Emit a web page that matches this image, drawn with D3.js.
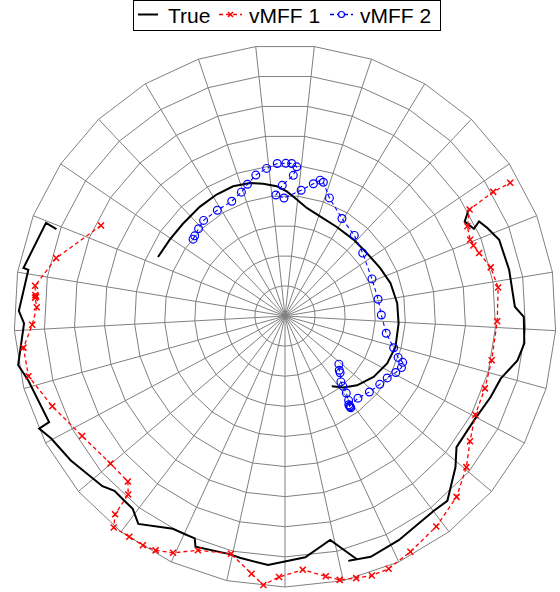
<!DOCTYPE html>
<html>
<head>
<meta charset="utf-8">
<script src="https://cdn.jsdelivr.net/npm/d3@7"></script>
<style>
  html, body { margin: 0; padding: 0; background: #fff; }
  svg { display: block; }
  text { font-family: "Liberation Sans", Arial, Helvetica, sans-serif; }
</style>
</head>
<body>
<svg id="chart" width="560" height="592"></svg>
<script>
// ---- Data (angles in degrees, counter-clockwise from east; radii in ring units) ----
const seriesNames = ["True", "vMFF 1", "vMFF 2"];

const trueInnerTheta = [155.1,146.5,137.9,128.0,119.4,111.8,104.8,99.4,93.7,89.2,84.2,78.6,70.6,59.8,48.1,37.5,26.7,17.3,6.5,-3.7,-15.6,-24.9,-34.5,-43.9,-50.7,-56.3];
const trueInnerR     = [4.65,4.59,4.57,4.60,4.63,4.64,4.57,4.45,4.32,4.14,3.89,3.66,3.51,3.42,3.41,3.43,3.54,3.67,3.75,3.78,3.81,3.74,3.57,3.32,3.07,2.80];

const trueOuterTheta = [159.2,158.7,169.6,169.8,178.9,181.6,190.4,194.1,204.2,204.6,207.6,214.0,223.0,225.7,229.0,231.7,234.8,242.2,247.9,248.8,256.9,259.4,266.1,274.8,281.4,286.4,284.5,289.6,296.9,307.4,311.3,318.4,322.6,331.1,338.5,343.8,349.2,353.5,359.8,2.3,11.6,19.6,23.5,26.0,24.8,27.7,30.1];
const trueOuterR     = [8.12,8.52,8.83,8.66,8.84,8.67,9.01,8.79,8.59,8.98,8.77,8.58,8.29,8.11,8.13,8.16,8.45,7.99,7.97,8.22,8.12,8.17,8.29,8.04,7.59,8.41,8.40,8.49,8.35,8.14,8.17,7.57,7.17,7.17,7.34,7.46,7.86,8.00,7.93,7.64,7.60,7.55,7.33,7.17,6.91,6.74,7.05];

const vmff1Theta = [153.8,165.8,173.1,175.2,175.5,175.8,178.0,182.0,186.9,193.2,201.2,210.6,220.2,226.5,228.7,229.4,231.0,234.8,238.2,241.1,244.7,249.6,257.2,262.6,265.4,268.7,274.0,278.9,281.7,285.2,288.5,292.3,298.0,305.7,313.5,320.2,325.9,332.6,340.1,347.9,358.6,7.6,13.3,18.0,20.5,22.4,26.2,30.0,30.8,30.6];
const vmff1R     = [6.81,7.84,8.36,8.32,8.29,8.32,8.25,8.40,8.75,8.75,8.29,7.83,7.59,7.58,7.89,8.67,9.04,8.97,8.96,8.89,8.70,8.30,8.10,8.63,8.96,8.67,8.45,8.75,8.95,9.02,9.09,9.07,8.87,8.61,8.28,7.84,7.42,7.12,7.06,7.02,7.05,7.14,7.02,6.78,6.68,6.65,6.75,7.08,8.05,8.69];

const vmff2Theta = [140.1,138.4,134.7,130.4,122.6,114.9,109.4,105.9,101.7,97.1,92.9,89.7,87.5,85.5,86.6,91.2,94.3,90.5,82.7,77.9,75.5,74.0,69.4,59.7,49.3,39.0,23.1,10.2,0.6,-9.7,-16.3,-20.1,-21.5,-23.9,-27.0,-31.2,-35.8,-42.0,-48.4,-54.4,-54.4,-54.3,-54.3,-53.0,-51.5,-50.5,-49.7,-45.9,-45.0,-41.8];
const vmff2R     = [3.98,4.01,4.08,4.17,4.17,4.20,4.36,4.55,4.78,4.94,5.07,5.07,5.07,4.97,4.68,4.34,4.03,3.92,4.21,4.49,4.66,4.62,4.19,3.75,3.53,3.32,3.14,3.14,3.20,3.41,3.76,4.00,4.20,4.23,4.13,3.97,3.88,3.77,3.65,3.68,3.75,3.63,3.71,3.51,3.27,3.02,2.87,2.63,2.55,2.40];

const ringValues = [1,2,3,4,5,6,7,8,9];
const spokeCount = 29;

// ---- Layout ----
const cx = 285, cy = 316, R = 271;
const svg = d3.select("#chart");
const rScale = d3.scaleLinear().domain([0, 9]).range([0, R]);
// convert math angle (deg, ccw from east) to d3 radial angle (rad, cw from north)
const ang = d3.scaleLinear().domain([0, 360]).range([Math.PI / 2, Math.PI / 2 - 2 * Math.PI]);

const zip = (th, r) => th.map((t, i) => ({ t, r: r[i] }));

const g = svg.append("g").attr("transform", `translate(${cx},${cy})`);

// Grid
const spokeAngles = d3.range(spokeCount).map(k => (k + 0.5) * 2 * Math.PI / spokeCount);
const ringLine = d3.lineRadial()
  .angle(d => d.a).radius(d => d.r).curve(d3.curveLinearClosed);
const grid = g.append("g").attr("stroke", "#808080").attr("stroke-width", 1).attr("fill", "none");
ringValues.forEach(v => {
  grid.append("path").attr("d", ringLine(spokeAngles.map(a => ({ a, r: rScale(v) }))));
});
spokeAngles.forEach(a => {
  const p = d3.pointRadial(a, rScale(9));
  grid.append("line").attr("x1", 0).attr("y1", 0).attr("x2", p[0]).attr("y2", p[1]);
});

const line = d3.lineRadial().angle(d => ang(d.t)).radius(d => rScale(d.r));
const pt = d => d3.pointRadial(ang(d.t), rScale(d.r));

// True
[zip(trueInnerTheta, trueInnerR), zip(trueOuterTheta, trueOuterR)].forEach(seg => {
  g.append("path").attr("d", line(seg)).attr("fill", "none")
    .attr("stroke", "#000").attr("stroke-width", 2);
});

// vMFF 1
const d1 = zip(vmff1Theta, vmff1R);
g.append("path").attr("d", line(d1)).attr("fill", "none")
  .attr("stroke", "#ff0000").attr("stroke-width", 1.3).attr("stroke-dasharray", "4,3");
const xm = 3;
g.append("g").selectAll("path").data(d1).join("path")
  .attr("transform", d => `translate(${pt(d)[0]},${pt(d)[1]})`)
  .attr("d", `M${-xm},${-xm}L${xm},${xm}M${-xm},${xm}L${xm},${-xm}`)
  .attr("stroke", "#ff0000").attr("stroke-width", 1.5).attr("fill", "none");

// vMFF 2
const d2 = zip(vmff2Theta, vmff2R);
g.append("path").attr("d", line(d2)).attr("fill", "none")
  .attr("stroke", "#0000ff").attr("stroke-width", 1.1).attr("stroke-dasharray", "4,3");
g.append("g").selectAll("circle").data(d2).join("circle")
  .attr("cx", d => pt(d)[0]).attr("cy", d => pt(d)[1]).attr("r", 3.9)
  .attr("fill", "none").attr("stroke", "#0000ff").attr("stroke-width", 1.2);

// Legend
const lg = svg.append("g");
lg.append("rect").attr("x", 133.5).attr("y", 0.5).attr("width", 307).attr("height", 30)
  .attr("fill", "#fff").attr("stroke", "#000").attr("stroke-width", 1);
const items = [
  { name: seriesNames[0], x0: 138, x1: 158, tx: 168, color: "#000", dash: null, mark: null },
  { name: seriesNames[1], x0: 219, x1: 242, tx: 249, color: "#ff0000", dash: "4,3", mark: "x" },
  { name: seriesNames[2], x0: 330, x1: 353, tx: 360, color: "#0000ff", dash: "4,3", mark: "o" }
];
items.forEach(it => {
  lg.append("line").attr("x1", it.x0).attr("x2", it.x1).attr("y1", 14.5).attr("y2", 14.5)
    .attr("stroke", it.color).attr("stroke-width", it.mark ? 1.3 : 2)
    .attr("stroke-dasharray", it.dash);
  const mx = (it.x0 + it.x1) / 2;
  if (it.mark === "x") {
    lg.append("path").attr("d", `M${mx-2.5},12L${mx+2.5},17M${mx-2.5},17L${mx+2.5},12`)
      .attr("stroke", it.color).attr("stroke-width", 1.5);
  } else if (it.mark === "o") {
    lg.append("circle").attr("cx", mx).attr("cy", 14.5).attr("r", 3)
      .attr("fill", "#fff").attr("stroke", it.color).attr("stroke-width", 1.2);
  }
  lg.append("text").attr("x", it.tx).attr("y", 22.5).attr("font-size", 21)
    .attr("fill", "#000").text(it.name);
});
</script>
</body>
</html>
